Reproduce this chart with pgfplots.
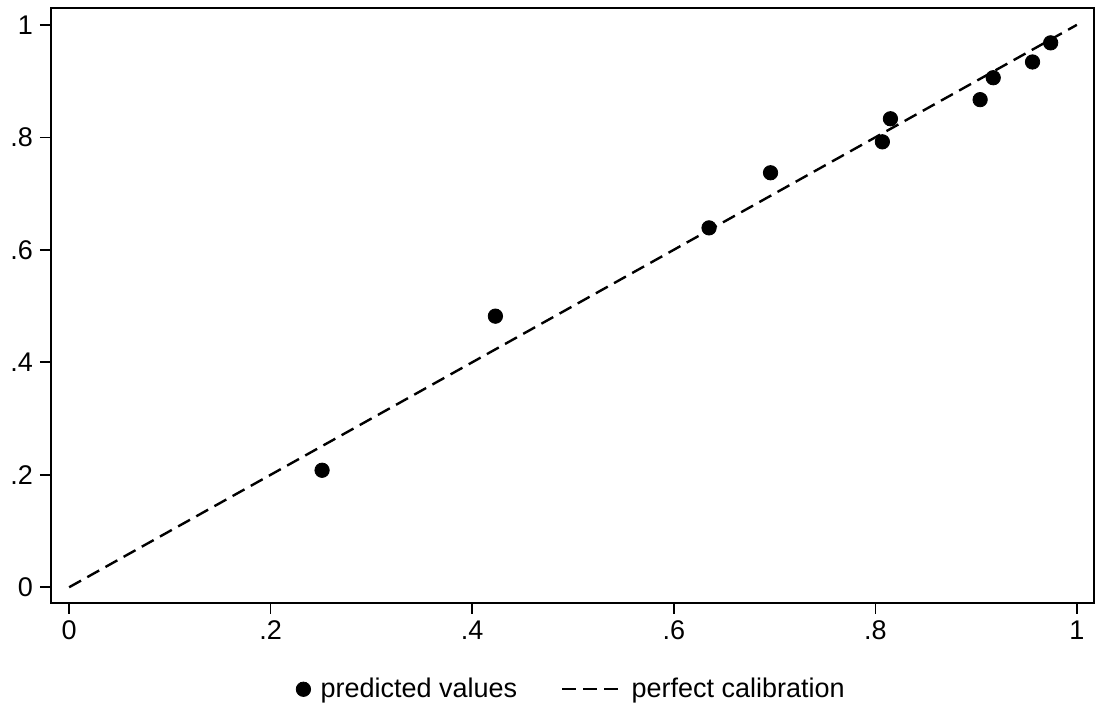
\documentclass[border=0pt]{standalone}
\usepackage{pgfplots}
\pgfplotsset{compat=1.18}
\usepackage{fontspec}
\setmainfont{Liberation Sans}
\pgfplotsset{longleg/.style={legend image code/.code={\draw[##1] (0pt,0pt) -- (29pt,0pt);}}}
\begin{document}
\begin{tikzpicture}
\useasboundingbox (-25.5pt,-50.5pt) rectangle (524pt,301.5pt);
\begin{axis}[
  scale only axis,
  width=521.5pt, height=297.5pt,
  xmin=-0.018, xmax=1.017,
  ymin=-0.028, ymax=1.030,
  xtick={0,0.2,0.4,0.6,0.8,1},
  xticklabels={0,.2,.4,.6,.8,1},
  ytick={0,0.2,0.4,0.6,0.8,1},
  yticklabels={0,.2,.4,.6,.8,1},
  tick align=outside,
  major tick length=5.5pt,
  tick style={black, line width=0.8pt},
  xtick pos=bottom, ytick pos=left,
  axis line style={line width=0.8pt},
  /pgf/number format/assume math mode=true,
  tick label style={font=\fontsize{13.5}{15}\selectfont},
  legend style={at={(0.5,-0.145)}, anchor=center, draw=none,
    font=\fontsize{13.5}{15}\selectfont, legend columns=2,
    /tikz/every odd column/.append style={column sep=3pt},
    /tikz/every even column/.append style={column sep=20pt}},
  legend cell align=left,
]
\addplot[only marks, mark=*, mark size=3.6pt, black] coordinates {
(0.251,0.208) (0.423,0.482) (0.635,0.639) (0.696,0.737) (0.807,0.792)
(0.815,0.833) (0.904,0.867) (0.917,0.906) (0.956,0.934) (0.974,0.968)
};
\addlegendentry{predicted values}
\addplot[black, line width=1.2pt, dash pattern=on 6.8pt off 3.6pt, longleg] coordinates {(0,0) (1,1)};
\addlegendentry{perfect calibration}
\end{axis}
\end{tikzpicture}
\end{document}
